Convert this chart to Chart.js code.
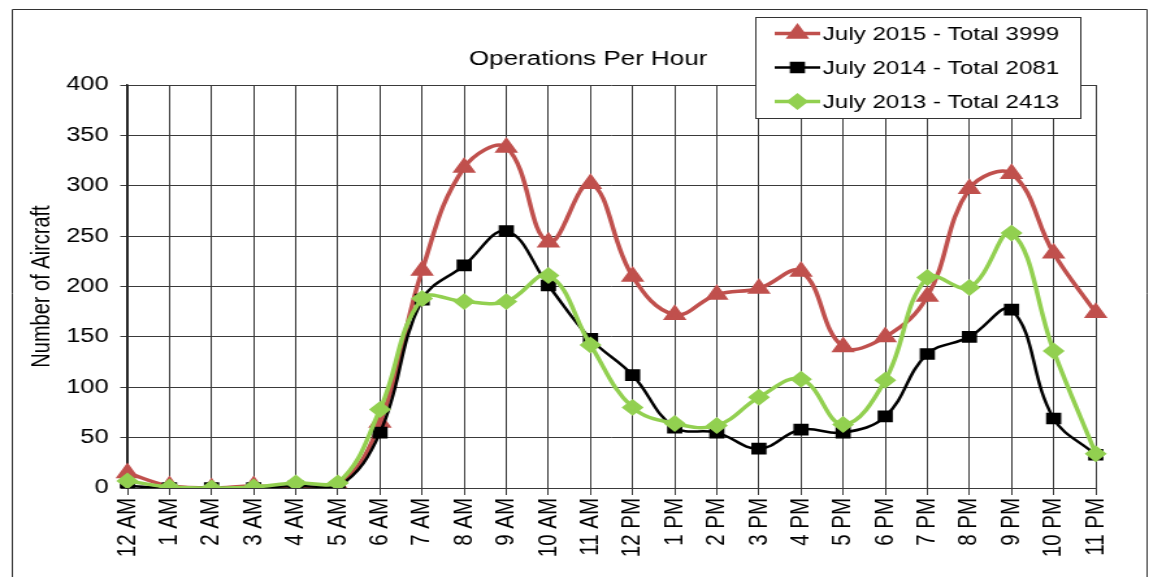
<!DOCTYPE html>
<html>
<head>
<meta charset="utf-8">
<title>Operations Per Hour</title>
<script src="https://cdn.jsdelivr.net/npm/chart.js@4.4.0/dist/chart.umd.min.js"></script>
<style>
  html, body { margin: 0; padding: 0; background: #fff; overflow: hidden; }
  /* the source picture is stretched sideways, so the chart is drawn narrower and widened */
  #wrap { width: 884px; height: 577px; transform: scaleX(1.2998); transform-origin: 0 0; }
</style>
</head>
<body>
<div id="wrap"><canvas id="opsChart" width="884" height="577"></canvas></div>
<script>
const hours = ['12 AM', '1 AM', '2 AM', '3 AM', '4 AM', '5 AM', '6 AM', '7 AM', '8 AM', '9 AM', '10 AM', '11 AM',
               '12 PM', '1 PM', '2 PM', '3 PM', '4 PM', '5 PM', '6 PM', '7 PM', '8 PM', '9 PM', '10 PM', '11 PM'];
const ops2015 = [15, 2, 0, 2, 0, 2, 65, 216, 318, 338, 244, 302, 210, 172, 192, 198, 215, 140, 150, 190, 297, 312, 233, 174];
const ops2014 = [2, 0, 0, 0, 2, 1, 55, 187, 221, 255, 201, 148, 112, 60, 55, 39, 58, 55, 71, 133, 150, 177, 69, 33];
const ops2013 = [7, 1, 0, 1, 5, 5, 78, 188, 185, 185, 211, 142, 80, 64, 62, 90, 108, 63, 107, 209, 199, 253, 136, 34];
const seriesNames = ['July 2015 - Total 3999', 'July 2014 - Total 2081', 'July 2013 - Total 2413'];
const chartTitle = 'Operations Per Hour';
const yAxisTitle = 'Number of Aircraft';
const yMin = 0, yMax = 400, yStep = 50;

const FONT = "'Liberation Sans', Arial, sans-serif";

// border, title and the floating legend box
const decorPlugin = {
    id: 'decor',
    beforeDraw(chart) {
        const ctx = chart.ctx;
        ctx.save();
        ctx.fillStyle = '#fff';
        ctx.fillRect(0, 0, chart.width, chart.height);
        ctx.strokeStyle = '#333';
        ctx.lineWidth = 1;
        ctx.beginPath();
        ctx.moveTo(9.5, chart.height);
        ctx.lineTo(9.5, 9.5);
        ctx.lineTo(882.5, 9.5);
        ctx.lineTo(882.5, chart.height);
        ctx.stroke();
        ctx.restore();
    },
    afterDraw(chart) {
        const ctx = chart.ctx;
        const area = chart.chartArea;
        ctx.save();
        ctx.fillStyle = '#000';
        ctx.font = '20px ' + FONT;
        ctx.textAlign = 'center';
        ctx.textBaseline = 'middle';
        ctx.fillText(chartTitle, (area.left + area.right) / 2 - 18, area.top - 26);

        // legend
        const box = { left: 581.5, top: 17.5, right: 831.5, bottom: 118.5 };
        ctx.fillStyle = '#fff';
        ctx.fillRect(box.left, box.top, box.right - box.left, box.bottom - box.top);
        ctx.strokeStyle = '#333';
        ctx.lineWidth = 1;
        ctx.strokeRect(box.left, box.top, box.right - box.left, box.bottom - box.top);

        ctx.font = '18.6px ' + FONT;
        ctx.textAlign = 'left';
        chart.data.datasets.forEach((ds, i) => {
            const y = box.top + 16 + i * 34;
            ctx.strokeStyle = ds.borderColor;
            ctx.lineWidth = ds.borderWidth;
            ctx.beginPath();
            ctx.moveTo(596, y);
            ctx.lineTo(631, y);
            ctx.stroke();
            ctx.fillStyle = ds.pointBackgroundColor;
            ctx.strokeStyle = ds.pointBorderColor;
            Chart.helpers.drawPoint(ctx, {
                pointStyle: ds.pointStyle, radius: ds.pointRadius, rotation: 0, borderWidth: 1
            }, 613.5, y);
            ctx.fillStyle = '#000';
            ctx.fillText(ds.label, 633, y + 1);
        });
        ctx.restore();
    }
};

const ctx = document.getElementById('opsChart').getContext('2d');
new Chart(ctx, {
    type: 'line',
    data: {
        labels: hours,
        datasets: [
            {
                label: seriesNames[0], data: ops2015, order: 2,
                borderColor: '#C0504D', borderWidth: 3.5,
                pointStyle: 'triangle', pointRadius: 7,
                pointBackgroundColor: '#C0504D', pointBorderColor: '#C0504D'
            },
            {
                label: seriesNames[1], data: ops2014, order: 1,
                borderColor: '#000000', borderWidth: 2.5,
                pointStyle: 'rect', pointRadius: 6.5,
                pointBackgroundColor: '#000000', pointBorderColor: '#000000'
            },
            {
                label: seriesNames[2], data: ops2013, order: 0,
                borderColor: '#92D050', borderWidth: 3.5,
                pointStyle: 'rectRot', pointRadius: 6,
                pointBackgroundColor: '#92D050', pointBorderColor: '#92D050'
            }
        ]
    },
    options: {
        responsive: false,
        animation: false,
        layout: { padding: { left: 9, top: 85, right: 41, bottom: 0 } },
        elements: { line: { tension: 0.4, fill: false } },
        scales: {
            x: {
                afterFit: scale => { scale.height = 89; },
                grid: { color: '#3a3a3a', lineWidth: 1, tickLength: 7 },
                border: { color: '#3a3a3a' },
                ticks: {
                    color: '#000', font: { family: FONT, size: 20.5 },
                    minRotation: 90, maxRotation: 90, autoSkip: false, padding: 3
                }
            },
            y: {
                min: yMin, max: yMax,
                afterFit: scale => { scale.width = 89; },
                grid: { color: '#3a3a3a', lineWidth: 1, tickLength: 5.5 },
                border: { color: '#222', width: 1.5 },
                ticks: { stepSize: yStep, color: '#000', font: { family: FONT, size: 19.5 }, padding: 9 },
                title: {
                    display: true, text: yAxisTitle, color: '#000',
                    font: { family: FONT, size: 20 }, padding: { top: 11, bottom: 0 }
                }
            }
        },
        plugins: {
            legend: { display: false },
            tooltip: { enabled: false }
        }
    },
    plugins: [decorPlugin]
});
</script>
</body>
</html>
